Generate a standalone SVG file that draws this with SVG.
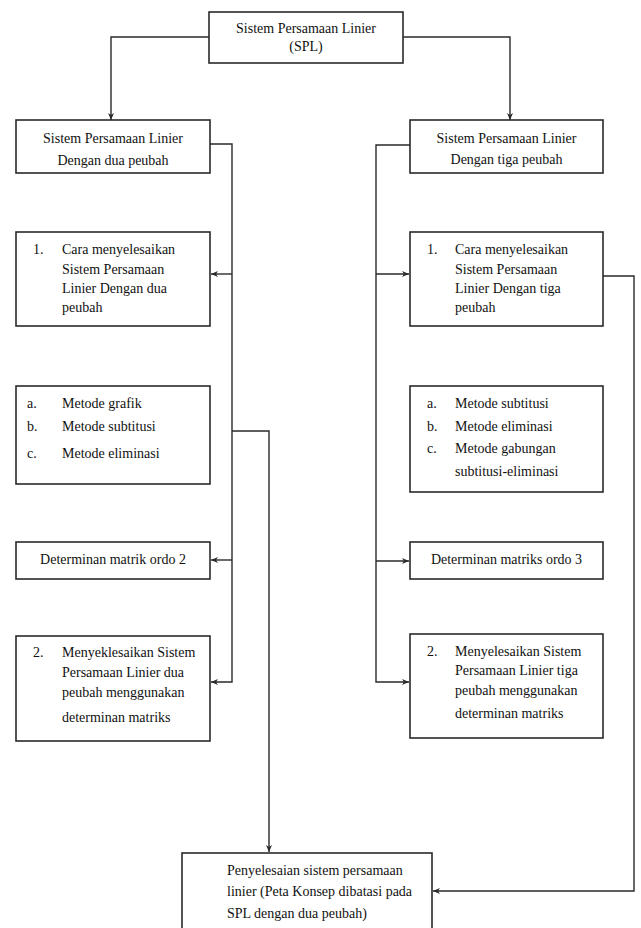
<svg xmlns="http://www.w3.org/2000/svg" width="641" height="928" viewBox="0 0 641 928">
<style>
.box{fill:#fff;stroke:#2a2a2a;stroke-width:1.6}
.t{font-family:"Liberation Serif","Times New Roman",serif;font-size:14px;fill:#111}
.c{text-anchor:middle}
.ln{fill:none;stroke:#2a2a2a;stroke-width:1.4}
</style>
<defs>
<marker id="ah" markerUnits="userSpaceOnUse" markerWidth="8" markerHeight="8" refX="7" refY="4" orient="auto">
<path d="M0,1 L7,4 L0,7 L2,4 Z" fill="#2a2a2a"/>
</marker>
</defs>
<rect width="641" height="928" fill="#fff"/>

<g id="connectors">
<path class="ln" d="M209,37 H111 V120" marker-end="url(#ah)"/>
<path class="ln" d="M403,37 H510 V120" marker-end="url(#ah)"/>
<path class="ln" d="M210,144 H232 V682 H211" marker-end="url(#ah)"/>
<path class="ln" d="M232,274 H211" marker-end="url(#ah)"/>
<path class="ln" d="M232,560 H211" marker-end="url(#ah)"/>
<path class="ln" d="M232,431 H269 V852" marker-end="url(#ah)"/>
<path class="ln" d="M410,145 H376 V682 H409" marker-end="url(#ah)"/>
<path class="ln" d="M376,274 H409" marker-end="url(#ah)"/>
<path class="ln" d="M376,561 H409" marker-end="url(#ah)" stroke="#666"/>
<path class="ln" d="M603,276 H634 V891 H433" marker-end="url(#ah)"/>
</g>

<g id="spl">
<rect class="box" x="209" y="12" width="194" height="51"/>
<text class="t c" x="306" y="33">Sistem Persamaan Linier</text>
<text class="t c" x="306" y="51">(SPL)</text>
</g>

<g id="spl-dua">
<rect class="box" x="16" y="120" width="194" height="53"/>
<text class="t c" x="113" y="143">Sistem Persamaan Linier</text>
<text class="t c" x="113" y="165">Dengan dua peubah</text>
</g>

<g id="spl-tiga">
<rect class="box" x="410" y="120" width="193" height="53"/>
<text class="t c" x="506.5" y="143">Sistem Persamaan Linier</text>
<text class="t c" x="506.5" y="164">Dengan tiga peubah</text>
</g>

<g id="cara-dua">
<rect class="box" x="16" y="232" width="194" height="94"/>
<text class="t" x="33" y="254">1.</text>
<text class="t" x="62" y="254">Cara menyelesaikan</text>
<text class="t" x="62" y="274">Sistem Persamaan</text>
<text class="t" x="62" y="293">Linier Dengan dua</text>
<text class="t" x="62" y="312">peubah</text>
</g>

<g id="cara-tiga">
<rect class="box" x="410" y="232" width="193" height="94"/>
<text class="t" x="427" y="254">1.</text>
<text class="t" x="455" y="254">Cara menyelesaikan</text>
<text class="t" x="455" y="274">Sistem Persamaan</text>
<text class="t" x="455" y="293">Linier Dengan tiga</text>
<text class="t" x="455" y="312">peubah</text>
</g>

<g id="metode-dua">
<rect class="box" x="16" y="386" width="194" height="98"/>
<text class="t" x="27" y="408">a.</text>
<text class="t" x="62" y="408">Metode grafik</text>
<text class="t" x="27" y="431">b.</text>
<text class="t" x="62" y="431">Metode subtitusi</text>
<text class="t" x="27" y="458">c.</text>
<text class="t" x="62" y="458">Metode eliminasi</text>
</g>

<g id="metode-tiga">
<rect class="box" x="410" y="386" width="193" height="106"/>
<text class="t" x="427" y="408">a.</text>
<text class="t" x="455" y="408">Metode subtitusi</text>
<text class="t" x="427" y="431">b.</text>
<text class="t" x="455" y="431">Metode eliminasi</text>
<text class="t" x="427" y="453">c.</text>
<text class="t" x="455" y="453">Metode gabungan</text>
<text class="t" x="455" y="476">subtitusi-eliminasi</text>
</g>

<g id="det-2">
<rect class="box" x="16" y="542" width="194" height="37"/>
<text class="t c" x="113" y="564">Determinan matrik ordo 2</text>
</g>

<g id="det-3">
<rect class="box" x="410" y="542" width="193" height="37"/>
<text class="t c" x="506.5" y="564">Determinan matriks ordo 3</text>
</g>

<g id="det-sol-dua">
<rect class="box" x="16" y="636" width="194" height="105"/>
<text class="t" x="33" y="657">2.</text>
<text class="t" x="62" y="657">Menyeklesaikan Sistem</text>
<text class="t" x="62" y="677">Persamaan Linier dua</text>
<text class="t" x="62" y="697">peubah menggunakan</text>
<text class="t" x="62" y="722">determinan matriks</text>
</g>

<g id="det-sol-tiga">
<rect class="box" x="410" y="634" width="193" height="104"/>
<text class="t" x="427" y="656">2.</text>
<text class="t" x="455" y="656">Menyelesaikan Sistem</text>
<text class="t" x="455" y="675">Persamaan Linier tiga</text>
<text class="t" x="455" y="695">peubah menggunakan</text>
<text class="t" x="455" y="718">determinan matriks</text>
</g>

<g id="penyelesaian">
<rect class="box" x="182" y="853" width="250" height="90"/>
<text class="t" x="227" y="875">Penyelesaian sistem persamaan</text>
<text class="t" x="227" y="896">linier (Peta Konsep dibatasi pada</text>
<text class="t" x="227" y="918">SPL dengan dua peubah)</text>
</g>
</svg>
